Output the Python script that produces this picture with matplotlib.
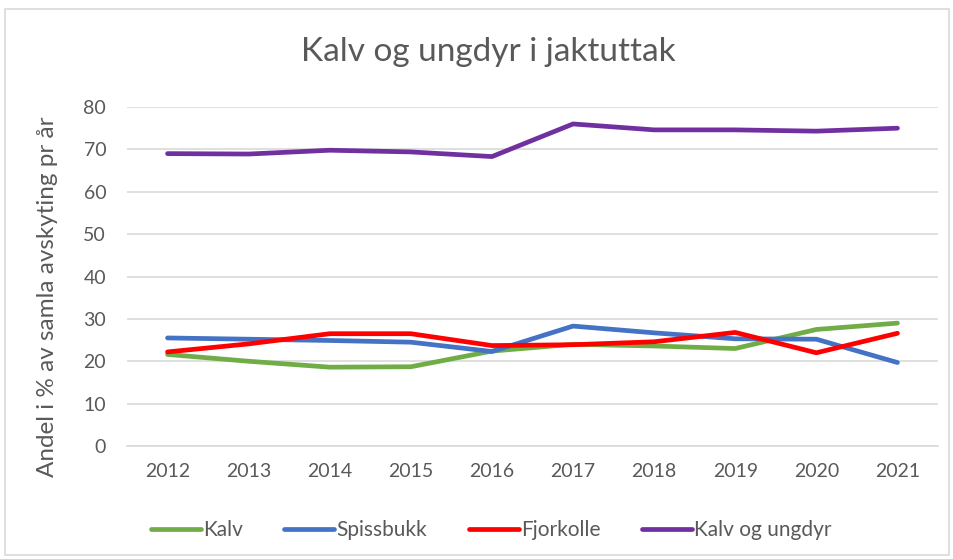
import matplotlib
matplotlib.use("Agg")
import matplotlib.pyplot as plt
from matplotlib.patches import Rectangle

years = ["2012", "2013", "2014", "2015", "2016", "2017", "2018", "2019", "2020", "2021"]
kalv = [21.6, 20.0, 18.6, 18.7, 22.4, 24.0, 23.6, 23.0, 27.5, 29.0]
spissbukk = [25.5, 25.2, 24.9, 24.5, 22.3, 28.3, 26.7, 25.3, 25.2, 19.7]
fjorkolle = [22.2, 24.1, 26.5, 26.5, 23.7, 23.9, 24.6, 26.8, 22.0, 26.6]
kalv_ungdyr = [69.0, 68.9, 69.8, 69.4, 68.3, 76.0, 74.6, 74.6, 74.3, 75.0]

series = [
    ("Kalv", kalv, "#70AD47"),
    ("Spissbukk", spissbukk, "#4472C4"),
    ("Fjorkolle", fjorkolle, "#FF0000"),
    ("Kalv og ungdyr", kalv_ungdyr, "#7030A0"),
]

plt.rcParams['font.family'] = ['Lato', 'DejaVu Sans']
txt = "#595959"

fig = plt.figure(figsize=(9.54, 5.59), dpi=100)
ax = fig.add_axes([127/954, 1-446/559, (938-127)/954, (446-107)/559])

x = list(range(len(years)))
for name, vals, col in series:
    ax.plot(x, vals, color=col, lw=3.4, label=name, solid_capstyle='round', solid_joinstyle='round')

ax.set_xlim(-0.5, len(years)-0.5)
ax.set_ylim(0, 80)
ax.set_yticks(range(0, 81, 10))
ax.set_xticks(x)
ax.set_xticklabels(years)
ax.grid(axis='y', color='#D9D9D9', lw=1.2)
ax.set_axisbelow(True)
for s in ['top', 'right', 'left']:
    ax.spines[s].set_visible(False)
ax.spines['bottom'].set_color('#D9D9D9')
ax.spines['bottom'].set_linewidth(1.2)
ax.tick_params(axis='both', length=0, colors=txt, labelsize=14)
ax.tick_params(axis='y', pad=15)
ax.tick_params(axis='x', pad=12)
ax.set_ylabel("Andel i % av samla avskyting pr år", fontsize=17.5, color=txt)
ax.yaxis.set_label_coords(-0.085, 0.44)

fig.text(488/954, 1-52/559, "Kalv og ungdyr i jaktuttak", ha='center', va='center', fontsize=24, color=txt)

leg = fig.legend(loc='center', bbox_to_anchor=(491/954, 1-530/559), ncol=4, frameon=False,
                 fontsize=15, handlelength=2.4, columnspacing=2.0, handletextpad=0.1)
for t in leg.get_texts():
    t.set_color(txt)

fig.patches.append(Rectangle((5/954, 4/559), 944/954, 546/559, transform=fig.transFigure,
                             fill=False, edgecolor='#D9D9D9', lw=1.2))

fig.savefig("out.png", dpi=100)
